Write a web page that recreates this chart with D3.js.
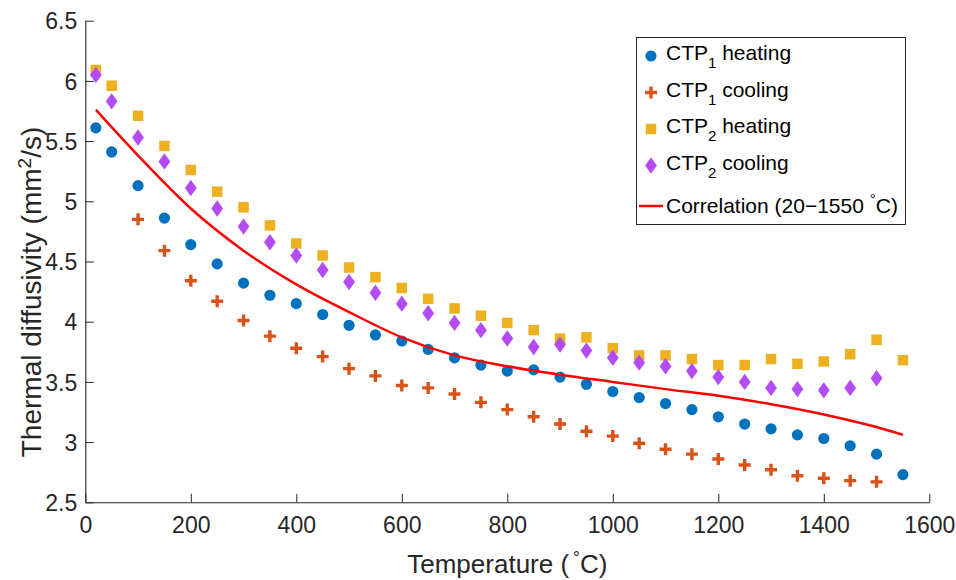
<!DOCTYPE html>
<html>
<head>
<meta charset="utf-8">
<script src="https://cdn.jsdelivr.net/npm/d3@7"></script>
<style>
  body { margin: 0; background: #fff; }
  svg { display: block; font-family: "Liberation Sans", Arial, sans-serif; }
</style>
</head>
<body>
<div id="chart"></div>
<script>
// Thermal diffusivity vs temperature

// temperatures (°C)
const tempsFull = [20, 50, 100, 150, 200, 250, 300, 350, 400, 450, 500, 550, 600, 650, 700, 750,
                   800, 850, 900, 950, 1000, 1050, 1100, 1150, 1200, 1250, 1300, 1350, 1400, 1450, 1500, 1550];
const tempsCool1 = [100, 150, 200, 250, 300, 350, 400, 450, 500, 550, 600, 650, 700, 750, 800,
                    850, 900, 950, 1000, 1050, 1100, 1150, 1200, 1250, 1300, 1350, 1400, 1450, 1500];
const tempsCool2 = [20, 50, 100, 150, 200, 250, 300, 350, 400, 450, 500, 550, 600, 650, 700, 750,
                    800, 850, 900, 950, 1000, 1050, 1100, 1150, 1200, 1250, 1300, 1350, 1400, 1450, 1500];

// diffusivity (mm^2/s)
const ctp1Heating = [5.61, 5.41, 5.13, 4.86, 4.64, 4.48, 4.32, 4.22, 4.15, 4.06, 3.97, 3.89, 3.84, 3.77, 3.70, 3.64,
                     3.59, 3.60, 3.54, 3.48, 3.42, 3.37, 3.32, 3.27, 3.21, 3.15, 3.11, 3.06, 3.03, 2.97, 2.90, 2.73];
const ctp1Cooling = [4.85, 4.59, 4.34, 4.17, 4.01, 3.88, 3.78, 3.71, 3.61, 3.55, 3.47, 3.45, 3.40, 3.33, 3.27,
                     3.21, 3.15, 3.09, 3.05, 2.99, 2.94, 2.90, 2.86, 2.81, 2.77, 2.72, 2.70, 2.68, 2.67];
const ctp2Heating = [6.09, 5.96, 5.71, 5.46, 5.26, 5.08, 4.95, 4.80, 4.65, 4.55, 4.45, 4.37, 4.28, 4.19, 4.11, 4.05,
                     3.99, 3.93, 3.86, 3.87, 3.78, 3.72, 3.72, 3.69, 3.64, 3.64, 3.69, 3.65, 3.67, 3.73, 3.85, 3.68];
const ctp2Cooling = [6.05, 5.83, 5.53, 5.33, 5.11, 4.94, 4.79, 4.66, 4.55, 4.43, 4.33, 4.24, 4.15, 4.07, 3.99, 3.93,
                     3.86, 3.79, 3.81, 3.76, 3.70, 3.66, 3.63, 3.59, 3.54, 3.50, 3.45, 3.44, 3.43, 3.45, 3.53];

// correlation curve
const corrTemps = [20, 100, 200, 300, 400, 500, 600, 700, 800, 900, 1000, 1100, 1200, 1300, 1400, 1450, 1500, 1550];
const corrValues = [5.76, 5.38, 4.94, 4.59, 4.31, 4.08, 3.87, 3.72, 3.63, 3.56, 3.50, 3.44, 3.385, 3.315, 3.23, 3.18, 3.125, 3.06];

const xTicks = [0, 200, 400, 600, 800, 1000, 1200, 1400, 1600];
const xTickLabels = ['0', '200', '400', '600', '800', '1000', '1200', '1400', '1600'];
const yTicks = [2.5, 3, 3.5, 4, 4.5, 5, 5.5, 6, 6.5];
const yTickLabels = ['2.5', '3', '3.5', '4', '4.5', '5', '5.5', '6', '6.5'];

const width = 956, height = 580;
const margin = { left: 85.3, right: 26.7, top: 20.7, bottom: 77.7 };
const axisColor = '#262626';

const svg = d3.select('#chart').append('svg')
    .attr('width', width)
    .attr('height', height);

const x = d3.scaleLinear().domain([0, 1600]).range([margin.left, width - margin.right]);
const y = d3.scaleLinear().domain([2.5, 6.5]).range([height - margin.bottom, margin.top]);

// axes (inward ticks, no box)
const xAxis = d3.axisBottom(x).tickValues(xTicks).tickFormat((d, i) => xTickLabels[i])
    .tickSizeInner(-8.5).tickSizeOuter(0).tickPadding(14);
const yAxis = d3.axisLeft(y).tickValues(yTicks).tickFormat((d, i) => yTickLabels[i])
    .tickSizeInner(-8.5).tickSizeOuter(0).tickPadding(8);

const gx = svg.append('g').attr('transform', `translate(0,${y(2.5)})`).call(xAxis);
const gy = svg.append('g').attr('transform', `translate(${x(0)},0)`).call(yAxis);

[gx, gy].forEach(g => {
    g.select('.domain').attr('stroke', axisColor).attr('stroke-width', 1.1);
    g.selectAll('.tick line').attr('stroke', axisColor).attr('stroke-width', 1);
    g.selectAll('.tick text')
        .attr('fill', axisColor)
        .style('font-size', '23px')
        .style('font-family', '"Liberation Sans", Arial, sans-serif');
});
gx.selectAll('.tick text').attr('dy', '0.71em');
gy.selectAll('.tick text').attr('dy', '0.36em');

// axis labels
const xLabel = svg.append('text')
    .attr('x', x(800))
    .attr('y', 573)
    .attr('text-anchor', 'middle')
    .attr('fill', axisColor)
    .style('font-size', '26px');
xLabel.append('tspan').text('Temperature (');
xLabel.append('tspan').attr('dx', 4).attr('dy', -10).style('font-size', '17px').text('°');
xLabel.append('tspan').attr('dy', 10).text('C)');

const yLabel = svg.append('text')
    .attr('transform', `translate(41,292) rotate(-90)`)
    .attr('text-anchor', 'middle')
    .attr('fill', axisColor)
    .style('font-size', '28px');
yLabel.append('tspan').text('Thermal diffusivity (mm');
yLabel.append('tspan').attr('dy', -10).style('font-size', '19px').text('2');
yLabel.append('tspan').attr('dy', 10).text('/s)');

// marker shapes
const diamond = {
    draw(ctx, size) {
        const h = Math.sqrt(size) * 0.8, w = h * 0.72;
        ctx.moveTo(0, -h);
        ctx.lineTo(w, 0);
        ctx.lineTo(0, h);
        ctx.lineTo(-w, 0);
        ctx.closePath();
    }
};

const series = [
    { name: 'CTP', sub: '1', rest: ' heating', temps: tempsFull, values: ctp1Heating, color: '#0072BD', kind: 'circle' },
    { name: 'CTP', sub: '1', rest: ' cooling', temps: tempsCool1, values: ctp1Cooling, color: '#D95319', kind: 'plus' },
    { name: 'CTP', sub: '2', rest: ' heating', temps: tempsFull, values: ctp2Heating, color: '#EDB120', kind: 'square' },
    { name: 'CTP', sub: '2', rest: ' cooling', temps: tempsCool2, values: ctp2Cooling, color: '#B44CF6', kind: 'diamond' }
];

function drawMarker(g, kind, color) {
    if (kind === 'circle') {
        g.append('path').attr('d', d3.symbol(d3.symbolCircle, 98)()).attr('fill', color);
    } else if (kind === 'square') {
        g.append('path').attr('d', d3.symbol(d3.symbolSquare, 110)()).attr('fill', color);
    } else if (kind === 'diamond') {
        g.append('path').attr('d', d3.symbol(diamond, 105)()).attr('fill', color);
    } else if (kind === 'plus') {
        g.append('path').attr('d', 'M-6,0H6M0,-6V6')
            .attr('stroke', color).attr('stroke-width', 3.4).attr('fill', 'none');
    }
}

// draw points
series.forEach(s => {
    const pts = s.temps.map((t, i) => [t, s.values[i]]);
    svg.append('g').selectAll('g')
        .data(pts)
        .enter()
        .append('g')
        .attr('transform', d => `translate(${x(d[0])},${y(d[1])})`)
        .each(function () { drawMarker(d3.select(this), s.kind, s.color); });
});

// correlation line
const corr = corrTemps.map((t, i) => [t, corrValues[i]]);
svg.append('path')
    .datum(corr)
    .attr('fill', 'none')
    .attr('stroke', '#FF0000')
    .attr('stroke-width', 2.5)
    .attr('d', d3.line().x(d => x(d[0])).y(d => y(d[1])).curve(d3.curveMonotoneX));

// legend
const legend = svg.append('g');
legend.append('rect')
    .attr('x', 636.5).attr('y', 37.5)
    .attr('width', 269).attr('height', 187)
    .attr('fill', '#fff').attr('stroke', axisColor).attr('stroke-width', 1);

const rowY = [56, 92.5, 129, 165.5, 206];
series.forEach((s, i) => {
    const row = legend.append('g').attr('transform', `translate(651,${rowY[i]})`);
    drawMarker(row, s.kind, s.color);
    const t = row.append('text')
        .attr('x', 15).attr('y', 0).attr('dy', '0.2em')
        .attr('fill', '#000')
        .style('font-size', '21px');
    t.append('tspan').text(s.name);
    t.append('tspan').attr('dy', 8).style('font-size', '15px').text(s.sub);
    t.append('tspan').attr('dy', -8).text(s.rest);
});
const lastRow = legend.append('g').attr('transform', `translate(651,${rowY[4]})`);
lastRow.append('line').attr('x1', -12).attr('x2', 12).attr('y1', 0).attr('y2', 0)
    .attr('stroke', '#FF0000').attr('stroke-width', 2.5);
const ct = lastRow.append('text')
    .attr('x', 15).attr('y', 0).attr('dy', '0.35em')
    .attr('fill', '#000')
    .style('font-size', '21px');
ct.append('tspan').text('Correlation (20−1550 ');
ct.append('tspan').attr('dy', -9).style('font-size', '15px').text('°');
ct.append('tspan').attr('dy', 9).text('C)');
</script>
</body>
</html>
